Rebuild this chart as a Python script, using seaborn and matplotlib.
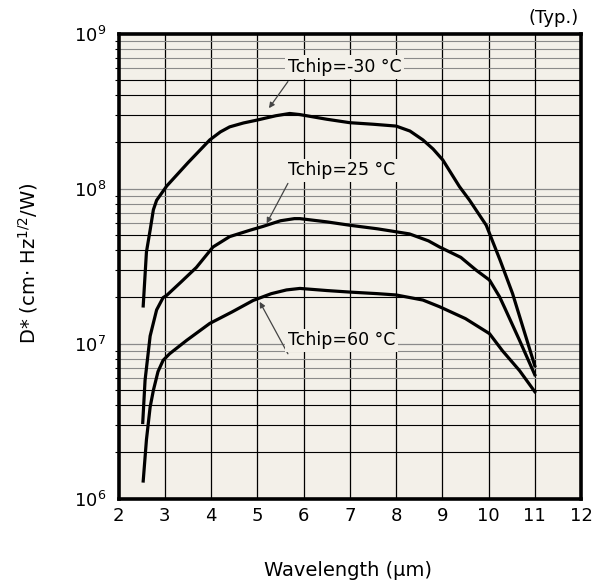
import numpy as np
import pandas as pd
import matplotlib
matplotlib.use("Agg")
import matplotlib.pyplot as plt
import seaborn as sns

# Specific detectivity D* vs wavelength at three chip temperatures
wl_m30 = [2.53, 2.60, 2.68, 2.75, 2.82, 3.04, 3.50, 3.97, 4.20, 4.40, 4.70, 4.98,
          5.40, 5.70, 5.92, 6.50, 7.00, 7.50, 8.00, 8.30, 8.58, 8.80, 9.01,
          9.37, 9.59, 9.95, 10.25, 10.52, 10.81, 11.00]
d_m30 = [1.75e7, 3.9e7, 5.4e7, 7.3e7, 8.4e7, 1.04e8, 1.47e8, 2.06e8, 2.32e8,
         2.5e8, 2.65e8, 2.76e8, 2.95e8, 3.05e8, 3.0e8, 2.8e8, 2.66e8, 2.6e8,
         2.53e8, 2.35e8, 2.06e8, 1.8e8, 1.53e8, 1.03e8, 8.4e7, 5.8e7, 3.45e7,
         2.1e7, 1.1e7, 7.2e6]

wl_25 = [2.52, 2.57, 2.68, 2.82, 2.96, 3.04, 3.35, 3.68, 4.04, 4.40, 4.85, 5.12,
         5.50, 5.80, 5.92, 6.50, 7.00, 7.60, 8.29, 8.70, 8.94, 9.40, 9.73,
         10.02, 10.24, 10.35, 10.67, 11.00]
d_25 = [3.1e6, 5.8e6, 1.12e7, 1.65e7, 1.98e7, 2.05e7, 2.5e7, 3.1e7, 4.2e7,
        4.9e7, 5.4e7, 5.7e7, 6.2e7, 6.4e7, 6.4e7, 6.1e7, 5.8e7, 5.5e7, 5.1e7,
        4.6e7, 4.2e7, 3.6e7, 2.98e7, 2.57e7, 2.0e7, 1.7e7, 1.05e7, 6.3e6]

wl_60 = [2.53, 2.60, 2.68, 2.75, 2.85, 2.96, 3.10, 3.47, 3.97, 4.45, 4.91, 5.30,
         5.63, 5.92, 6.50, 7.00, 7.60, 8.00, 8.58, 8.94, 9.50, 10.02, 10.30,
         10.67, 11.00]
d_60 = [1.3e6, 2.4e6, 3.9e6, 5.0e6, 6.6e6, 7.8e6, 8.6e6, 1.05e7, 1.35e7, 1.6e7,
        1.9e7, 2.1e7, 2.22e7, 2.27e7, 2.2e7, 2.15e7, 2.1e7, 2.06e7, 1.91e7,
        1.73e7, 1.45e7, 1.16e7, 9.0e6, 6.7e6, 4.9e6]

series = ["Tchip=-30 °C", "Tchip=25 °C", "Tchip=60 °C"]
x_ticks = [2, 3, 4, 5, 6, 7, 8, 9, 10, 11, 12]
y_decades = [1e6, 1e7, 1e8, 1e9]

df = pd.concat([
    pd.DataFrame({"wl": wl_m30, "d": d_m30, "t": series[0]}),
    pd.DataFrame({"wl": wl_25, "d": d_25, "t": series[1]}),
    pd.DataFrame({"wl": wl_60, "d": d_60, "t": series[2]}),
], ignore_index=True)

plt.rcParams["font.family"] = ["DejaVu Sans"]
bg = "#f3f0e9"

fig = plt.figure(figsize=(5.95, 5.86), dpi=100)
ax = fig.add_axes([0.1995, 0.149, 0.777, 0.7938])
ax.set_facecolor(bg)
ax.set_yscale("log")
ax.set_xlim(2, 12)
ax.set_ylim(1e6, 1e9)

# grid: integer wavelengths, log decades and their sub-divisions
for xv in x_ticks[1:-1]:
    ax.axvline(xv, color="black", lw=0.9, zorder=1)
for dec in y_decades[:-1]:
    if dec > 1e6:
        ax.axhline(dec, color="#8a8a8a", lw=0.9, zorder=1)
    for m in range(2, 10):
        col = "black" if m <= 5 else "#8a8a8a"
        ax.axhline(dec * m, color=col, lw=0.8, zorder=1)

sns.lineplot(data=df, x="wl", y="d", hue="t", palette=["black"] * 3,
             estimator=None, sort=False, legend=False, linewidth=2.3,
             ax=ax, zorder=3)

ax.set_xticks(x_ticks)
ax.set_yticks(y_decades)
ax.tick_params(axis="both", which="major", length=0, labelsize=13)
ax.tick_params(axis="x", pad=6)
ax.tick_params(axis="y", pad=9)
ax.tick_params(axis="y", which="minor", length=3, width=0.8, direction="out")
ax.tick_params(axis="y", which="minor", labelleft=False)
ax.set_xlabel("")
ax.set_ylabel("")
for sp in ax.spines.values():
    sp.set_linewidth(2.6)
    sp.set_zorder(5)

# curve labels with leader arrows
labels = [
    (series[0], (5.25, 3.3e8), (5.66, 6.08e8), (5.66, 4.9e8)),
    (series[1], (5.20, 5.96e7), (5.66, 1.31e8), (5.66, 1.08e8)),
    (series[2], (5.05, 1.86e7), (5.66, 1.05e7), (5.66, 8.6e6)),
]
for text, head, pos, tail in labels:
    ax.annotate("", xy=head, xytext=tail,
                arrowprops=dict(arrowstyle="-|>", color="#444444", lw=0.9,
                                mutation_scale=8, shrinkA=0, shrinkB=0),
                zorder=4)
    ax.text(pos[0], pos[1], text, ha="left", va="center", fontsize=12.5,
            zorder=4, bbox=dict(boxstyle="square,pad=0.15", fc=bg, ec="none"))

fig.text(0.972, 1 - 18 / 586, "(Typ.)", ha="right", va="center", fontsize=13)
fig.text(348 / 595, 1 - 570 / 586, "Wavelength (µm)", ha="center",
         va="center", fontsize=14)
fig.text(28 / 595, 1 - 263 / 586, r"D* (cm$\cdot$ Hz$^{1/2}$/W)",
         ha="center", va="center", rotation=90, fontsize=14)

fig.savefig("out.png", dpi=100, facecolor="white")
